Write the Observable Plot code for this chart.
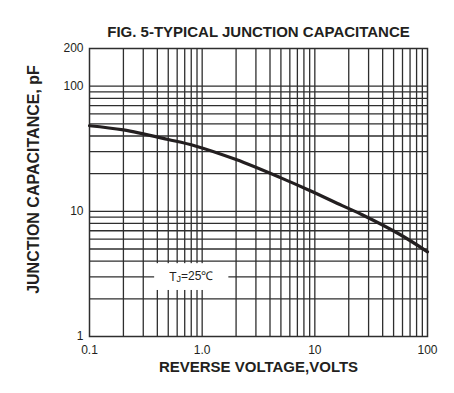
<!DOCTYPE html>
<html>
<head>
<meta charset="utf-8">
<script src="https://cdn.jsdelivr.net/npm/d3@7"></script>
<script src="https://cdn.jsdelivr.net/npm/@observablehq/plot@0.6"></script>
<style>
  html, body { margin: 0; padding: 0; background: #fff; }
  svg { font-family: "Liberation Sans", Arial, sans-serif; }
</style>
</head>
<body>
<div id="chart"></div>
<script>
// ---- data ----
const titleText = "FIG. 5-TYPICAL JUNCTION CAPACITANCE";
const xLabel = "REVERSE VOLTAGE,VOLTS";
const yLabel = "JUNCTION CAPACITANCE, pF";

const xTicks = [0.1, 1, 10, 100];
const xTickLabels = ["0.1", "1.0", "10", "100"];
const yTicks = [1, 10, 100, 200];
const yTickLabels = ["1", "10", "100", "200"];

// grid lines (log grid)
const xGrid = [0.2, 0.3, 0.4, 0.5, 0.6, 0.7, 0.8, 0.9, 1, 2, 3, 4, 5, 6, 7, 8, 9, 10, 20, 30, 40, 50, 60, 70, 80, 90];
const yGrid = [2, 3, 4, 5, 6, 7, 8, 9, 10, 20, 30, 40, 50, 60, 70, 80, 90, 100];

// curve: reverse voltage (V) vs junction capacitance (pF)
const voltage = [0.1, 0.2, 0.5, 0.87, 2, 5, 9.1, 17.5, 26.3, 57.5, 100];
const capacitance = [48.3, 44.7, 37.5, 33.3, 25.9, 18.5, 14.6, 11.1, 9.4, 6.5, 4.75];

const noteText = "TJ=25℃";
const noteX = 0.8;
const noteY = 3;

const curve = voltage.map((v, i) => ({v, c: capacitance[i]}));
const ink = "#231f20";
const gridInk = "#2e2e2e";

const plot = Plot.plot({
  width: 454,
  height: 393,
  marginTop: 48,
  marginBottom: 57,
  marginLeft: 89,
  marginRight: 27,
  style: {fontFamily: "'Liberation Sans', Arial, sans-serif", background: "#fff"},
  x: {type: "log", domain: [0.1, 100]},
  y: {type: "log", domain: [1, 200]},
  marks: [
    Plot.ruleX(xGrid, {stroke: gridInk, strokeWidth: 1.3}),
    Plot.ruleY(yGrid, {stroke: gridInk, strokeWidth: 1.3}),
    Plot.frame({stroke: gridInk, strokeWidth: 1.5}),
    Plot.line(curve, {x: "v", y: "c", stroke: ink, strokeWidth: 3.2, curve: "catmull-rom"}),
    Plot.axisX(xTicks, {tickSize: 0, tickPadding: 9, fontSize: 12, fill: ink, label: null,
      tickFormat: d => xTickLabels[xTicks.indexOf(d)]}),
    Plot.axisY(yTicks, {tickSize: 0, tickPadding: 6, fontSize: 12, fill: ink, label: null,
      tickFormat: d => yTickLabels[yTicks.indexOf(d)]}),
    Plot.text([noteText], {x: noteX, y: noteY, text: d => d, fontSize: 12, fill: ink, className: "tjnote"}),
    Plot.text([titleText], {frameAnchor: "top", dy: -22, text: d => d, fontSize: 15, fontWeight: "bold", fill: ink}),
    Plot.text([xLabel], {frameAnchor: "bottom", dy: 35, text: d => d, fontSize: 15, fontWeight: "bold", fill: ink}),
    Plot.text([yLabel], {frameAnchor: "left", textAnchor: "middle", dx: -56, dy: -13, rotate: -90, text: d => d, fontSize: 16, fontWeight: "bold", fill: ink})
  ]
});

document.getElementById("chart").appendChild(plot);

// white label box and subscript for the TJ note
const g = d3.select(plot).select("g.tjnote");
const t = g.select("text");
t.text(null);
t.append("tspan").text("T");
t.append("tspan").attr("font-size", 9).attr("dy", "0.15em").text("J");
t.append("tspan").attr("dy", "-0.15em").text("=25℃");
const bb = t.node().getBBox();
g.insert("rect", "text")
  .attr("transform", t.attr("transform"))
  .attr("x", bb.x - 15).attr("y", bb.y - 6)
  .attr("width", bb.width + 30).attr("height", bb.height + 12)
  .attr("fill", "#fff");
</script>
</body>
</html>
